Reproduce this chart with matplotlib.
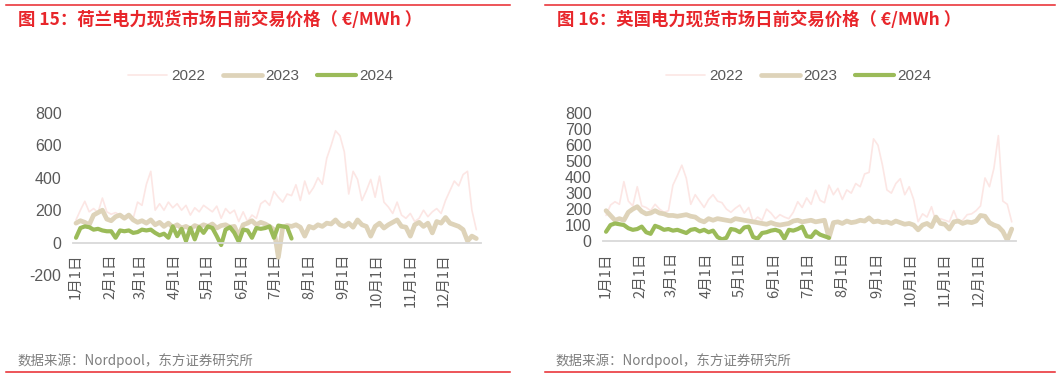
import numpy as np
import matplotlib
matplotlib.use('Agg')
import matplotlib.pyplot as plt
from matplotlib.lines import Line2D

step_days = 4
month_days = [0, 31, 59, 90, 120, 151, 181, 212, 243, 273, 304, 334]
month_labels = ['1月1日', '2月1日', '3月1日', '4月1日', '5月1日', '6月1日',
                '7月1日', '8月1日', '9月1日', '10月1日', '11月1日', '12月1日']
series_names = ['2022', '2023', '2024']

nl_2022 = [140, 200, 255, 190, 210, 185, 275, 190, 175, 185, 170, 160, 175, 150, 250, 230,
           360, 440, 200, 240, 200, 250, 215, 240, 200, 230, 170, 215, 190, 230, 210, 190,
           225, 150, 210, 180, 200, 130, 190, 130, 170, 150, 240, 260, 230, 316, 280, 250,
           300, 290, 357, 260, 380, 300, 340, 400, 360, 520, 600, 690, 660, 560, 300, 440,
           390, 260, 320, 390, 280, 410, 250, 220, 180, 250, 170, 150, 180, 130, 150, 200,
           160, 190, 210, 180, 260, 320, 380, 350, 420, 440, 200, 80]
nl_2023 = [120, 135, 125, 110, 170, 185, 200, 145, 135, 160, 170, 150, 170, 140, 125, 135,
           120, 140, 110, 125, 100, 120, 95, 110, 90, 100, 85, 105, 95, 110, 100, 115,
           90, 105, 110, 95, 100, 40, 110, 120, 135, 110, 125, 115, 100, 80, -90, 95,
           105, 100, 110, 95, 40, 100, 90, 110, 100, 120, 115, 140, 110, 100, 120, 95,
           140, 110, 100, 40, 100, 120, 90, 110, 125, 140, 100, 95, 40, 110, 125, 100,
           120, 60, 130, 120, 155, 120, 110, 100, 80, 10, 40, 25]
nl_2024 = [30, 90, 100, 95, 80, 85, 75, 70, 70, 30, 75, 70, 75, 60, 65, 80,
           75, 80, 60, 45, 55, 30, 100, 40, 85, 10, 90, 20, 95, 60, 100, 90,
           40, -15, 80, 95, 60, 5, 80, 75, 30, 90, 85, 90, 100, 30, 105, 100,
           95, 25]

gb_2022 = [160, 225, 246, 230, 372, 250, 220, 340, 220, 210, 190, 230, 200, 180, 190, 350,
           410, 475, 393, 230, 290, 250, 210, 260, 290, 250, 240, 200, 180, 205, 225, 175,
           210, 120, 150, 130, 200, 175, 140, 165, 150, 140, 180, 246, 210, 270, 230, 318,
           255, 240, 350, 290, 330, 260, 320, 300, 360, 340, 420, 430, 640, 600, 475, 320,
           300, 360, 390, 290, 340, 260, 121, 170, 150, 215, 120, 140, 130, 120, 190, 120,
           130, 165, 170, 190, 220, 395, 340, 455, 660, 250, 230, 120]
gb_2023 = [190, 160, 130, 140, 130, 180, 200, 215, 185, 170, 175, 190, 175, 170, 160, 160,
           155, 160, 165, 155, 150, 130, 120, 140, 130, 140, 135, 130, 125, 140, 135, 130,
           125, 120, 115, 110, 105, 115, 105, 100, 105, 110, 125, 130, 120, 125, 130, 120,
           125, 130, 20, 115, 120, 110, 125, 115, 120, 130, 125, 145, 120, 125, 115, 120,
           110, 125, 115, 105, 110, 100, 70, 100, 110, 90, 150, 110, 105, 75, 120, 125,
           110, 120, 115, 125, 160, 155, 115, 100, 90, 60, 5, 75]
gb_2024 = [58, 100, 110, 105, 100, 80, 70, 75, 90, 55, 45, 95, 85, 70, 75, 65,
           70, 60, 50, 70, 75, 60, 70, 55, 65, 25, 10, 20, 75, 70, 55, 85,
           90, 25, 15, 50, 55, 65, 70, 60, 15, 70, 65, 75, 90, 30, 25, 60,
           40, 30, 20]

# ---------------- styling ----------------
W, H = 1061, 378
RED = '#E8262B'
GRAY_TXT = '#595959'
COLORS = {'2022': '#FCE6E4', '2023': '#DED3B9', '2024': '#9BBB59'}
WIDTHS = {'2022': 1.2, '2023': 3.4, '2024': 3.0}
LAT = ['Liberation Sans', 'Noto Sans CJK SC', 'DejaVu Sans']
CJK = ['Noto Sans CJK SC', 'Liberation Sans', 'DejaVu Sans']

fig = plt.figure(figsize=(W / 100, H / 100), dpi=100)


def fx(px):
    return px / W


def fy(py):
    return 1 - py / H


def panel(left, right, top, bottom, ylim, yticks, data, tx, title, legend_cx, line_span):
    ax = fig.add_axes([fx(left), fy(bottom), fx(right - left), (bottom - top) / H])
    for name, vals in zip(series_names, data):
        x = np.arange(len(vals)) * step_days
        ax.plot(x, vals, color=COLORS[name], lw=WIDTHS[name], label=name,
                solid_capstyle='round', solid_joinstyle='round')
    for s in ['top', 'right', 'left']:
        ax.spines[s].set_visible(False)
    ax.spines['bottom'].set_position(('data', 0))
    ax.spines['bottom'].set_color('#D9D9D9')
    ax.spines['bottom'].set_linewidth(1.3)
    ax.set_xlim(-3, 368)
    ax.set_ylim(*ylim)
    ax.set_yticks(yticks)
    ax.set_yticklabels([str(v) for v in yticks], fontsize=11.5, color=GRAY_TXT, family=LAT)
    ax.set_xticks(month_days)
    ax.set_xticklabels(month_labels, fontsize=10.5, color=GRAY_TXT, family=CJK, rotation=90)
    ax.tick_params(axis='x', length=0, pad=8)
    ax.tick_params(axis='y', length=0, pad=8)
    ax.patch.set_alpha(0)

    handles, labels = ax.get_legend_handles_labels()
    fig.legend(handles, labels, loc='center', bbox_to_anchor=(fx(legend_cx), fy(76)),
               ncol=3, frameon=False, handlelength=2.55, handletextpad=0.25,
               columnspacing=1.15, prop={'family': LAT, 'size': 11}, labelcolor=GRAY_TXT)

    fig.text(fx(tx), fy(20), title, color=RED, fontsize=12.5, fontweight='bold',
             family=CJK, va='center', ha='left')
    fig.text(fx(tx - 1), fy(361), '数据来源：Nordpool，东方证券研究所', color='#7F7F7F',
             fontsize=9.7, family=CJK, va='center', ha='left')
    x0, x1 = line_span
    fig.add_artist(Line2D([fx(x0), fx(x1)], [fy(5.3), fy(5.3)], color=RED, lw=1.1))
    fig.add_artist(Line2D([fx(x0), fx(x1)], [fy(372), fy(372)], color=RED, lw=1.1))
    return ax


panel(72.7, 480.7, 113, 275, (-200, 800), [-200, 0, 200, 400, 600, 800],
      [nl_2022, nl_2023, nl_2024], 18, '图 15：荷兰电力现货市场日前交易价格（ €/MWh ）',
      261, (6, 510))
panel(602.7, 1016.2, 113.3, 241, (0, 800), [0, 100, 200, 300, 400, 500, 600, 700, 800],
      [gb_2022, gb_2023, gb_2024], 557, '图 16：英国电力现货市场日前交易价格（ €/MWh ）',
      799, (545, 1055))

fig.savefig('out.png', dpi=100, facecolor='white')
